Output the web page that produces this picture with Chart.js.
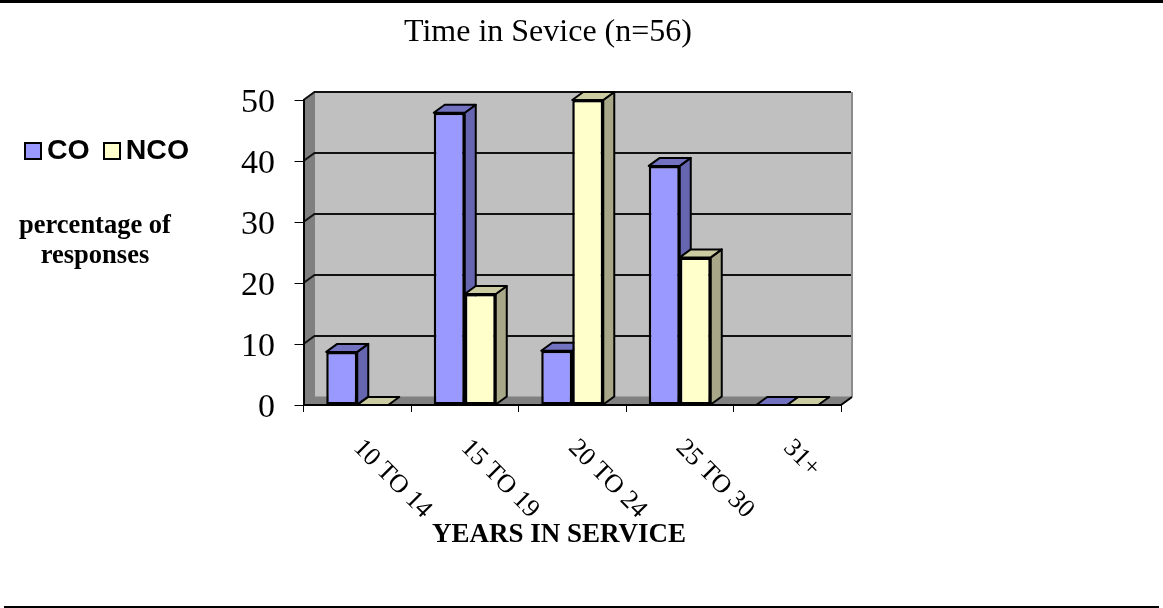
<!DOCTYPE html>
<html>
<head>
<meta charset="utf-8">
<title>Time in Sevice</title>
<script src="https://cdn.jsdelivr.net/npm/chart.js@4"></script>
<style>
  html, body { margin: 0; padding: 0; background: #fff; }
  #wrap { position: relative; width: 1163px; height: 608px; overflow: hidden; font-family: "Liberation Serif", serif; color: #000; }
  #myChart { position: absolute; left: 0; top: 0; }
  .rule { position: absolute; background: #000; }
  .txt { position: absolute; white-space: nowrap; }
  #chartTitle { left: 404px; top: 12px; font-size: 32px; line-height: 36px; }
  #xTitle { left: 432px; top: 517px; font-size: 27px; line-height: 32px; font-weight: bold; }
  #yTitle { left: 0; top: 209px; width: 190px; text-align: center; font-size: 26.5px; line-height: 30px; font-weight: bold; }
  #chartLegend { left: 24px; top: 132px; font: bold 28.5px/34px "Liberation Sans", sans-serif; }
  #chartLegend i { display: inline-block; width: 14px; height: 14px; border: 2px solid #000; margin-right: 5px; vertical-align: -1px; }
  #chartLegend span { margin-right: 13px; }
</style>
</head>
<body>
<div id="wrap">
  <div class="rule" style="left:0;top:0;width:1163px;height:3px"></div>
  <div class="rule" style="left:4px;top:606px;width:1155px;height:2px"></div>
  <canvas id="myChart" width="1163" height="608"></canvas>
  <div class="txt" id="chartTitle">Time in Sevice (n=56)</div>
  <div class="txt" id="chartLegend"></div>
  <div class="txt" id="yTitle">percentage of<br>responses</div>
  <div class="txt" id="xTitle">YEARS IN SERVICE</div>
</div>
<script>
const categories = ['10 TO 14', '15 TO 19', '20 TO 24', '25 TO 30', '31+'];
const coValues = [8.7, 47.9, 8.9, 39.2, 0];
const ncoValues = [0, 18.2, 50, 24.2, 0];
const yTicks = [0, 10, 20, 30, 40, 50];

// how far the back wall sits behind the front plane
const depthX = 11;
const depthY = -8;

function face(ctx, pts, fill) {
  ctx.beginPath();
  pts.forEach((p, i) => i ? ctx.lineTo(p[0], p[1]) : ctx.moveTo(p[0], p[1]));
  ctx.closePath();
  ctx.fillStyle = fill;
  ctx.fill();
  ctx.stroke();
}

const box3d = {
  id: 'box3d',
  // walls, floor, grid and the bar sides go under the bar fronts
  beforeDatasetsDraw(chart) {
    const ctx = chart.ctx;
    const { left, right, top, bottom } = chart.chartArea;
    const y = chart.scales.y;
    ctx.save();
    ctx.fillStyle = '#c0c0c0';
    ctx.fillRect(left + depthX, top + depthY, right - left, bottom - top);

    // left wall and floor
    ctx.strokeStyle = '#808080';
    ctx.lineWidth = 1;
    face(ctx, [[left, top], [left + depthX, top + depthY], [left + depthX, bottom + depthY], [left, bottom]], '#808080');
    face(ctx, [[left, bottom], [left + depthX, bottom + depthY], [right + depthX, bottom + depthY], [right, bottom]], '#808080');

    // right edge of the back wall
    ctx.strokeStyle = '#8c8c8c';
    ctx.lineWidth = 2;
    ctx.beginPath();
    ctx.moveTo(right + depthX, top + depthY);
    ctx.lineTo(right + depthX, bottom + depthY);
    ctx.stroke();

    // grid runs along the left wall, then across the back wall
    ctx.strokeStyle = '#111';
    yTicks.forEach(t => {
      if (t === 0) return;
      const py = y.getPixelForValue(t);
      ctx.beginPath();
      ctx.moveTo(left, py);
      ctx.lineTo(left + depthX, py + depthY);
      ctx.lineTo(right + depthX - 1, py + depthY);
      ctx.stroke();
    });
    ctx.strokeStyle = '#000';
    ctx.beginPath();
    ctx.moveTo(right, bottom);
    ctx.lineTo(right + depthX, bottom + depthY);
    ctx.stroke();

    ctx.lineJoin = 'round';
    const shades = [{ top: '#7272c0', side: '#6666b0' }, { top: '#cccca3', side: '#a8a888' }];
    chart.data.datasets.forEach((ds, d) => {
      chart.getDatasetMeta(d).data.forEach(bar => {
        const x0 = bar.x - bar.width / 2;
        const x1 = bar.x + bar.width / 2;
        const yt = bar.y;
        const yb = bar.base;
        if (yb - yt > 0.5) {
          face(ctx, [[x1, yt], [x1 + depthX, yt + depthY], [x1 + depthX, yb + depthY], [x1, yb]], shades[d].side);
        }
        ctx.strokeStyle = '#000';
        face(ctx, [[x0, yt], [x0 + depthX, yt + depthY], [x1 + depthX, yt + depthY], [x1, yt]], shades[d].top);
      });
    });
    ctx.restore();
  },
  // axis labels: slanted ones start under the middle of each group
  afterDraw(chart) {
    const ctx = chart.ctx;
    const x = chart.scales.x;
    const y = chart.scales.y;
    ctx.save();
    ctx.fillStyle = '#000';
    ctx.font = '26px "Liberation Serif"';
    ctx.textAlign = 'left';
    ctx.textBaseline = 'middle';
    categories.forEach((c, i) => {
      ctx.save();
      ctx.translate(x.getPixelForTick(i), 444);
      ctx.rotate(Math.PI / 4);
      ctx.fillText(c, 0, 0);
      ctx.restore();
    });
    ctx.font = '34px "Liberation Serif"';
    ctx.textAlign = 'right';
    yTicks.forEach(t => ctx.fillText(String(t), 275, y.getPixelForValue(t) + 3));
    ctx.restore();
  }
};

const ctx = document.getElementById('myChart').getContext('2d');
const myChart = new Chart(ctx, {
  type: 'bar',
  data: {
    labels: categories,
    datasets: [
      { label: 'CO', data: coValues, backgroundColor: '#9999ff', borderColor: '#000', borderWidth: 2.5, borderSkipped: false },
      { label: 'NCO', data: ncoValues, backgroundColor: '#ffffcc', borderColor: '#000', borderWidth: 2.5, borderSkipped: false }
    ]
  },
  options: {
    responsive: false,
    animation: false,
    layout: { padding: { top: 100, right: 322, left: 0, bottom: 0 } },
    plugins: { legend: { display: false }, title: { display: false }, tooltip: { enabled: false } },
    datasets: { bar: { categoryPercentage: 0.577, barPercentage: 1 } },
    scales: {
      x: {
        grid: { color: '#000', lineWidth: 1, tickLength: 7, drawOnChartArea: false, offset: true },
        // z above 0 keeps the axis lines on top of the walls
        border: { color: '#000', width: 2, z: 1 },
        ticks: { display: false },
        afterFit(scale) { scale.height = 203; }
      },
      y: {
        min: 0,
        max: 50,
        grid: { color: '#000', lineWidth: 1, tickLength: 9, drawOnChartArea: false },
        border: { color: '#000', width: 2, z: 1 },
        ticks: { display: false, stepSize: 10 },
        afterFit(scale) { scale.width = 303.5; }
      }
    }
  },
  plugins: [box3d]
});

// legend built from the dataset colours
document.getElementById('chartLegend').innerHTML = myChart.data.datasets
  .map(ds => `<span><i style="background:${ds.backgroundColor}"></i>${ds.label}</span>`)
  .join('');
</script>
</body>
</html>
